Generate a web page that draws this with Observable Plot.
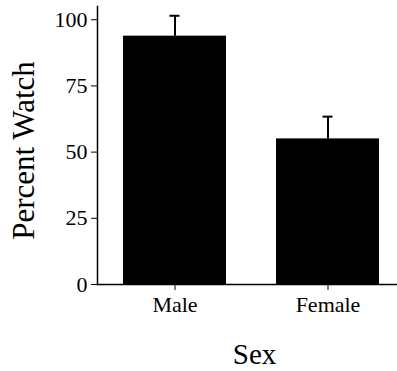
<!DOCTYPE html>
<html>
<head>
<meta charset="utf-8">
<script src="https://cdn.jsdelivr.net/npm/d3@7"></script>
<script src="https://cdn.jsdelivr.net/npm/@observablehq/plot@0.6"></script>
<style>
  html, body { margin: 0; padding: 0; background: #fff; }
  #chart svg { display: block; }
</style>
</head>
<body>
<div id="chart"></div>
<script>
const sexes = ["Male", "Female"];
const percentWatch = [93.8, 55.0];
const errorSize = [7.7, 8.4];
const yTicks = [0, 25, 50, 75, 100];
const xLabel = "Sex";
const yLabel = "Percent Watch";

const rows = sexes.map((s, i) => ({sex: s, value: percentWatch[i], upper: percentWatch[i] + errorSize[i]}));

const chart = Plot.plot({
  width: 397,
  height: 371,
  marginLeft: 97,
  marginRight: 0,
  marginTop: 6,
  marginBottom: 87,
  style: {fontFamily: "'Liberation Serif', 'Times New Roman', serif", fontSize: "21px", color: "#000", background: "#fff"},
  x: {domain: sexes, range: [97, 404.5], paddingInner: 0.329, paddingOuter: 0.166, label: null},
  y: {domain: [0, 105], label: null},
  marks: [
    Plot.barY(rows, {x: "sex", y: "value", fill: "#000"}),
    Plot.ruleX(rows, {x: "sex", y1: "value", y2: "upper", stroke: "#000", strokeWidth: 2}),
    Plot.tickY(rows, {x: "sex", y: "upper", stroke: "#000", strokeWidth: 2, insetLeft: 46.5, insetRight: 46.5}),
    Plot.frame({anchor: "left", stroke: "#000", strokeWidth: 1.5}),
    Plot.frame({anchor: "bottom", stroke: "#000", strokeWidth: 1.5}),
    Plot.axisY({ticks: yTicks, tickSize: 6, tickPadding: 4, fontSize: 22, label: null, stroke: "#000"}),
    Plot.axisX({tickSize: 6, tickPadding: 6, fontSize: 22, label: null, stroke: "#000"}),
    Plot.text([xLabel], {frameAnchor: "bottom", dx: 7, dy: 70, fontSize: 29, textAnchor: "middle", lineAnchor: "middle", fill: "#000"}),
    Plot.text([yLabel], {frameAnchor: "left", rotate: -90, dx: -73, dy: 5, fontSize: 31, textAnchor: "middle", lineAnchor: "middle", fill: "#000"})
  ]
});
document.getElementById("chart").appendChild(chart);
</script>
</body>
</html>
